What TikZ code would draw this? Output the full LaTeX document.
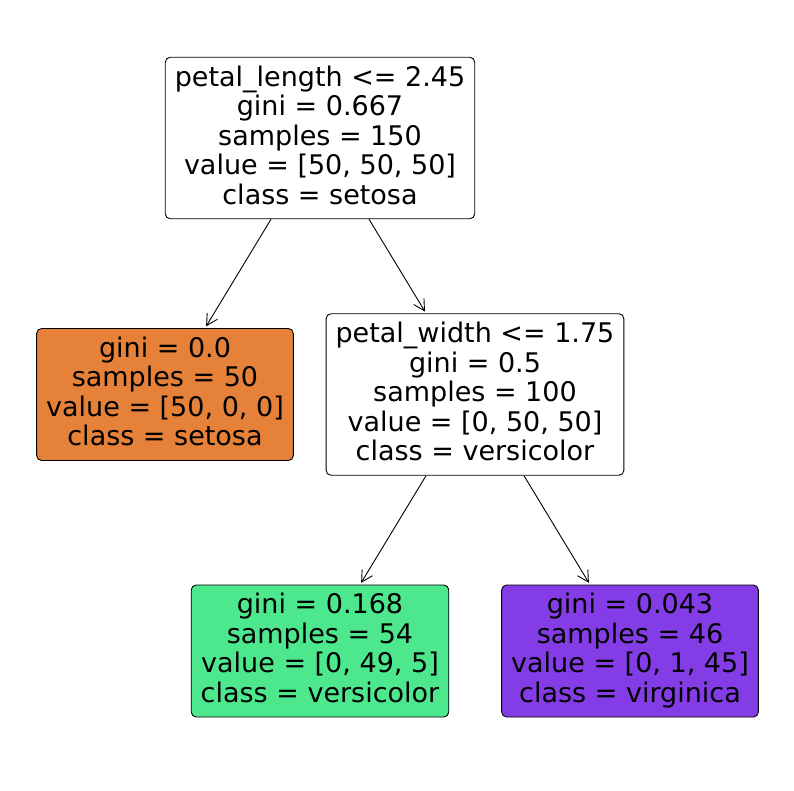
\documentclass[tikz,border=0pt]{standalone}
\usepackage{fontspec}
\setmainfont{DejaVu Sans}
\usepackage{tikz}
\usetikzlibrary{shapes, arrows.meta, positioning}
\definecolor{setosacol}{RGB}{229,129,57}
\definecolor{versicol}{RGB}{77,232,142}
\definecolor{virgcol}{RGB}{132,61,230}
\newcommand{\topstrut}{\rule{0pt}{23pt}}
\newcommand{\botstrut}{\rule[-6.5pt]{0pt}{6.5pt}}
\tikzstyle{block}=[draw,fill=white,rectangle,rounded corners=5pt,line width=0.9pt,align=center,inner xsep=9.5pt,inner ysep=8.25pt,execute at begin node=\topstrut,execute at end node=\botstrut]
\tikzstyle{every node}=[font=\fontsize{27}{29.5}\selectfont]
\tikzstyle{edge}=[line width=0.9pt,-{Straight Barb[length=11pt,width=12pt]},shorten >=2pt]

\begin{document}
\begin{tikzpicture}[x=1pt,y=-1pt,node distance=256.5pt]
    \useasboundingbox (0,0) rectangle (794,790);
    \node[block] (root) at (320,138) {petal\_length <= 2.45\\gini = 0.667\\samples = 150\\value = [50, 50, 50]\\class = setosa};
    \node[block, fill=setosacol, below of=root, xshift=-155pt] (setosa) {gini = 0.0\\samples = 50\\value = [50, 0, 0]\\class = setosa};
    \node[block, below of=root, xshift=155pt] (width) {petal\_width <= 1.75\\gini = 0.5\\samples = 100\\value = [0, 50, 50]\\class = versicolor};
    \node[block, fill=versicol, below of=width, xshift=-155pt] (versi) {gini = 0.168\\samples = 54\\value = [0, 49, 5]\\class = versicolor};
    \node[block, fill=virgcol, below of=width, xshift=155pt] (virg) {gini = 0.043\\samples = 46\\value = [0, 1, 45]\\class = virginica};
    \draw[edge] (root) -- (setosa);
    \draw[edge] (root) -- (width);
    \draw[edge] (width) -- (versi);
    \draw[edge] (width) -- (virg);
\end{tikzpicture}
\end{document}
